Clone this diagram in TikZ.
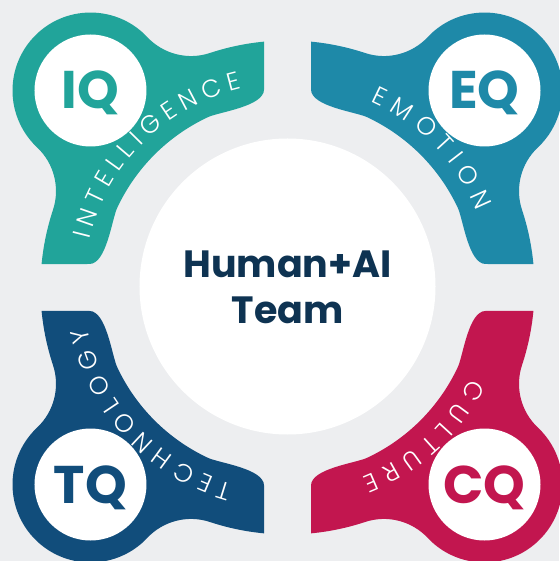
\documentclass[tikz,border=0pt]{standalone}
\usepackage{fontspec}
\setmainfont{Poppins}
\newfontfamily\thinsans{Poppins Light}
\usetikzlibrary{decorations.text}
\definecolor{hqbg}{HTML}{EDEEF0}
\definecolor{hqtext}{HTML}{0E3352}
\definecolor{hqteal}{HTML}{21A49A}
\definecolor{hqblue}{HTML}{1E89A8}
\definecolor{hqnavy}{HTML}{114D7B}
\definecolor{hqred}{HTML}{C2164F}
\newcommand\bandfont{\thinsans\fontsize{25pt}{25pt}\selectfont}
\tikzset{
  hub/.style={circle, fill=white, minimum size=296pt, inner sep=0pt},
  hubtext/.style={text=hqtext, font=\fontsize{38}{46}\selectfont\bfseries, align=center},
  badge/.style={circle, fill=white, minimum size=112pt, inner sep=0pt},
  qtag/.style={font=\fontsize{53}{53}\selectfont\bfseries, anchor=base},
  bandtxt/.style={decorate, decoration={text along path, text align={fit to path},
              text color=white, text={|\bandfont|#1}}},
}

\begin{document}
\begin{tikzpicture}[x=1pt, y=1pt]
    \useasboundingbox (-287.5,-273.5) rectangle (271.5,287.5);
    \fill[hqbg] (-287.5,-273.5) rectangle (271.5,287.5);
    % four quarter pieces, mirrored from the top left one
    \foreach \sx/\sy/\tone in {1/1/hqteal, -1/1/hqblue, 1/-1/hqnavy, -1/-1/hqred}{
      \fill[fill=\tone, xscale=\sx, yscale=\sy] (95.46:247)
        arc[start angle=95.46, end angle=108.31, radius=247]
        arc[start angle=288.31, end angle=223.21, radius=60]
        arc[start angle=43.21, end angle=226.79, radius=78]
        arc[start angle=46.79, end angle=-18.31, radius=60]
        arc[start angle=161.69, end angle=174.54, radius=247]
        -- (-198,23.5) .. controls (-181,23.5) and (-175.5,68.6) .. (155:188)
        arc[start angle=155, end angle=115, radius=188]
        .. controls (-68.6,175.5) and (-23.5,181) .. (-23.5,198) -- cycle;
    }
    \node[hub] (core) at (0,1) {};
    \node[hubtext] (team) at (0,0) {Human+AI\\Team};
    \node[badge] (iqdisc) at (-197,197) {};
    \node[badge] (eqdisc) at (197,197) {};
    \node[badge] (tqdisc) at (-197,-197) {};
    \node[badge] (cqdisc) at (197,-197) {};
    \node[qtag, text=hqteal] (iq) at (-197,178.5) {IQ};
    \node[qtag, text=hqblue] (eq) at (197,178.5) {EQ};
    \node[qtag, text=hqnavy] (tq) at (-197,-215.5) {TQ};
    \node[qtag, text=hqred] (cq) at (197,-215.5) {CQ};
    % curved words in the bands
    \path[bandtxt=INTELLIGENCE] (166.5:204) arc[start angle=166.5, end angle=103, radius=204];
    \path[bandtxt=EMOTION] (66:204) arc[start angle=66, end angle=22, radius=204];
    \path[bandtxt=TECHNOLOGY] (254.5:204) arc[start angle=254.5, end angle=191.5, radius=204];
    \path[bandtxt=CULTURE] (333.5:204) arc[start angle=333.5, end angle=291.5, radius=204];
  \end{tikzpicture}
\end{document}
